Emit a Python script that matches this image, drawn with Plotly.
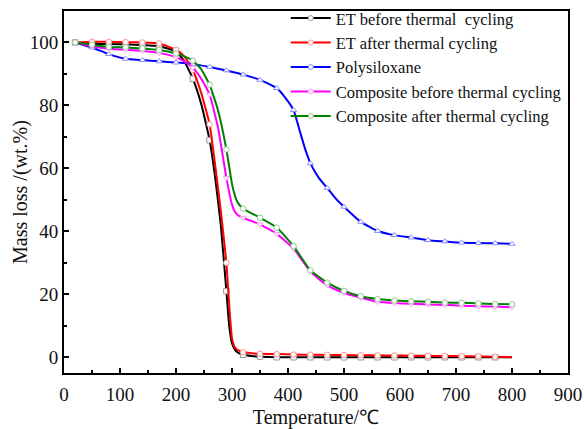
import plotly.graph_objects as go
import numpy as np

# ---------------- data ----------------
T_ET_BEFORE = [20, 50, 80, 110, 140, 170, 200, 215, 230, 245, 260, 270, 280, 290, 295, 300, 305, 310, 320, 335, 350,
               380, 410, 440, 470, 500, 530, 560, 590, 620, 650, 680, 710, 740, 770, 800]
M_ET_BEFORE = [100, 99.6, 99.5, 99.4, 99.2, 98.8, 97.2, 94.0, 88.5, 80.5, 69.0, 57.0, 42.0, 21.0, 10.0, 4.5, 2.5, 1.5, 0.8, 0.4, 0.2,
               0.0, 0.0, 0.0, 0.0, 0.0, 0.0, 0.0, 0.0, 0.0, 0.0, 0.0, 0.0, 0.0, 0.0, 0.0]

T_ET_AFTER = [20, 50, 80, 110, 140, 170, 200, 215, 230, 245, 260, 270, 280, 290, 296, 300, 305, 310, 320, 335, 350,
              380, 410, 440, 470, 500, 530, 560, 590, 620, 650, 680, 710, 740, 770, 800]
M_ET_AFTER = [100, 100.2, 100.2, 100.1, 100.0, 99.7, 97.7, 95.5, 91.3, 84.0, 74.0, 61.0, 46.5, 30.0, 14.0, 6.0, 3.2, 2.3, 1.6, 1.3, 1.1,
              1.0, 0.85, 0.8, 0.75, 0.7, 0.65, 0.6, 0.55, 0.5, 0.45, 0.4, 0.33, 0.27, 0.2, 0.0]

T_POLY = [20, 50, 80, 110, 140, 170, 200, 230, 260, 290, 320, 350, 380, 395, 410, 420, 430, 440, 455, 470, 485, 500,
          530, 560, 590, 620, 650, 680, 710, 740, 770, 800]
M_POLY = [100, 98.4, 96.3, 94.8, 94.4, 94.0, 93.6, 93.2, 92.2, 91.1, 89.8, 88.1, 85.5, 82.5, 78.5, 72.5, 66.5, 61.6, 57.0, 53.8, 50.5, 47.8,
          43.0, 40.1, 38.8, 38.0, 37.2, 36.8, 36.4, 36.3, 36.2, 36.0]

T_COMP_BEFORE = [20, 50, 80, 110, 140, 170, 200, 215, 230, 245, 260, 275, 290, 300, 305, 310, 320, 350, 380, 410, 440,
                 470, 500, 530, 560, 590, 620, 650, 680, 710, 740, 770, 800]
M_COMP_BEFORE = [100, 98.8, 98.0, 97.7, 97.3, 96.7, 95.3, 94.0, 92.0, 88.5, 83.5, 73.0, 57.0, 48.5, 46.3, 45.2, 44.3, 42.2, 39.2, 34.5, 27.2,
                 22.8, 20.4, 18.9, 17.6, 17.2, 17.0, 16.8, 16.6, 16.4, 16.2, 16.1, 15.9]

T_COMP_AFTER = [20, 50, 80, 110, 140, 170, 200, 215, 230, 245, 260, 275, 290, 300, 305, 310, 320, 350, 380, 410, 440,
                470, 500, 530, 560, 590, 620, 650, 680, 710, 740, 770, 800]
M_COMP_AFTER = [100, 99.3, 98.6, 98.4, 98.1, 97.6, 96.5, 95.6, 94.2, 91.5, 86.6, 78.5, 66.0, 55.0, 51.5, 49.2, 47.2, 44.3, 41.2, 35.3, 27.6,
                23.7, 21.1, 19.4, 18.5, 18.0, 17.8, 17.6, 17.4, 17.3, 17.1, 16.9, 16.8]

MARK_ET = list(range(20, 771, 30))
MARK_ALL = list(range(20, 801, 30))

SERIES = [
    ("ET before thermal  cycling", T_ET_BEFORE, M_ET_BEFORE, "#000000", "#9a9a9a", "square", MARK_ET),
    ("ET after thermal cycling", T_ET_AFTER, M_ET_AFTER, "#ff0000", "#ff9090", "circle", MARK_ET),
    ("Polysiloxane", T_POLY, M_POLY, "#0000ff", "#8c8cff", "triangle-up", MARK_ALL),
    ("Composite before thermal cycling", T_COMP_BEFORE, M_COMP_BEFORE, "#ff00ff", "#ff9cff", "triangle-down", MARK_ALL),
    ("Composite after thermal cycling", T_COMP_AFTER, M_COMP_AFTER, "#008000", "#90c890", "circle", MARK_ALL),
]

FONT = "Liberation Serif, Times New Roman, serif"

fig = go.Figure()
for name, t, m, col, mcol, sym, marks in SERIES:
    t_arr = np.array(t)
    m_arr = np.array(m)
    sel = np.isin(t_arr, marks)
    fig.add_trace(go.Scatter(x=t_arr, y=m_arr, mode="lines", showlegend=False,
                             line=dict(color=col, width=2, shape="spline", smoothing=0.4),
                             hoverinfo="skip"))
    fig.add_trace(go.Scatter(x=t_arr[sel], y=m_arr[sel], mode="markers", showlegend=False,
                             marker=dict(symbol=sym, size=5.5, color="white",
                                         line=dict(color=mcol, width=1))))
    fig.add_trace(go.Scatter(x=[None], y=[None], mode="lines+markers", name=name,
                             line=dict(color=col, width=2),
                             marker=dict(symbol="circle", size=5, color="white",
                                         line=dict(color=mcol, width=1))))

axis_common = dict(showgrid=False, zeroline=False, showline=True, linecolor="black", linewidth=2,
                   mirror=True, ticks="inside", ticklen=5, tickwidth=1.5, tickcolor="black",
                   tickfont=dict(family=FONT, size=19, color="#111"))

fig.update_xaxes(range=[0, 900], dtick=100, tick0=0, ticklabelstandoff=3,
                 minor=dict(dtick=50, ticks="inside", ticklen=3, tickcolor="black", tickwidth=1.5),
                 title=dict(text="Temperature/℃", font=dict(family=FONT, size=20, color="#111"), standoff=15),
                 **axis_common)
fig.update_yaxes(range=[-5, 110], dtick=20, tick0=0,
                 minor=dict(dtick=10, ticks="inside", ticklen=3, tickcolor="black", tickwidth=1.5),
                 **axis_common)

fig.add_annotation(text="Mass loss /(wt.%)", textangle=-90, showarrow=False,
                   xref="paper", yref="paper", x=(20 - 64) / 504, y=0.5,
                   xanchor="center", yanchor="middle",
                   font=dict(family=FONT, size=20, color="#111"))

fig.update_layout(
    width=584, height=429,
    margin=dict(l=64, r=16, t=11, b=56, autoexpand=False),
    plot_bgcolor="white", paper_bgcolor="white",
    legend=dict(x=0.44, y=1.028, xanchor="left", yanchor="top", bgcolor="rgba(0,0,0,0)",
                font=dict(family=FONT, size=16.5, color="#111"), tracegroupgap=0,
                itemwidth=40),
)

fig.write_html("out.html")
